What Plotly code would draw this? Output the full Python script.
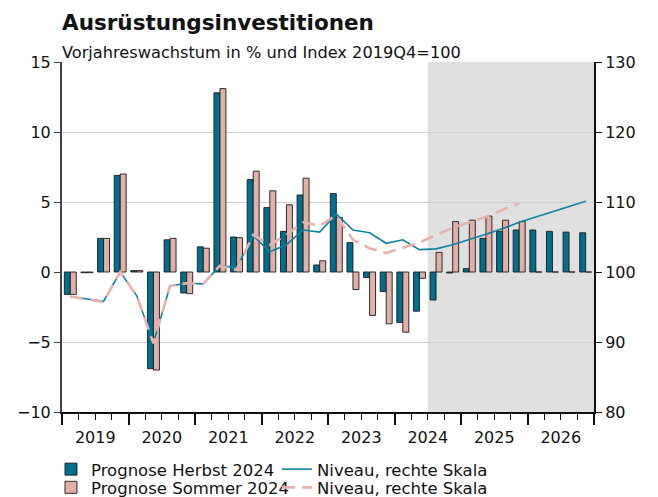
import plotly.graph_objects as go

# Quarters 2019Q1 .. 2026Q4 (index 0..31)
quarters = [f"{y}Q{q}" for y in range(2019, 2027) for q in range(1, 5)]
years = ["2019", "2020", "2021", "2022", "2023", "2024", "2025", "2026"]

herbst_growth = [-1.6, -0.05, 2.4, 6.9, 0.1, -6.9, 2.3, -1.5,
                 1.8, 12.8, 2.5, 6.6, 4.6, 2.9, 5.5, 0.5,
                 5.6, 2.1, -0.4, -1.4, -3.6, -2.8, -2.0, -0.07,
                 0.24, 2.4, 2.9, 3.0, 3.0, 2.9, 2.85, 2.8]
sommer_growth = [-1.6, -0.05, 2.4, 7.0, 0.1, -7.0, 2.4, -1.55,
                 1.7, 13.1, 2.45, 7.2, 5.8, 4.8, 6.7, 0.8,
                 3.9, -1.25, -3.1, -3.7, -4.3, -0.45, 1.4, 3.6,
                 3.7, 4.0, 3.7, 3.6, 0, 0, 0, 0]
herbst_level = [96.5, 96.1, 95.8, 100.0, 96.6, 89.9, 98.0, 98.4,
                98.3, 100.9, 100.6, 105.2, 102.9, 103.9, 106.0, 105.7,
                108.3, 106.0, 105.6, 104.1, 104.6, 103.2, 103.3, 103.9,
                104.6, 105.4, 106.2, 107.1, 107.85, 108.6, 109.35, 110.1]
sommer_level = [96.5, 96.1, 95.7, 100.0, 96.6, 89.8, 98.0, 98.4,
                98.3, 100.9, 100.3, 105.3, 103.9, 105.3, 107.1, 106.6,
                108.1, 104.6, 103.4, 102.7, 103.4, 104.2, 105.3, 106.3,
                107.1, 107.9, 108.9, 109.8, None, None, None, None]
left_ticks = [-10, -5, 0, 5, 10, 15]
left_grid = [-5, 5, 10, 15]
right_ticks = [80, 90, 100, 110, 120, 130]
forecast_start = "2024Q3"

TEAL = "#006F8E"
PINK = "#E2AFA9"
TEAL_LINE = "#0F82A1"
PINK_LINE = "#E6B4AF"
FONT = "DejaVu Sans"

x = list(range(len(quarters)))
fc = quarters.index(forecast_start) - 0.5
year_centers = [i * 4 + 1.5 for i in range(len(years))]
year_bounds = [i * 4 - 0.5 for i in range(len(years) + 1)]
quarter_bounds = [i - 0.5 for i in range(len(quarters) + 1)]

fig = go.Figure()
fig.add_trace(go.Bar(x=x, y=herbst_growth, name="Prognose Herbst 2024",
                     marker=dict(color=TEAL, line=dict(color="#1a1a1a", width=0.9)),
                     legend="legend"))
fig.add_trace(go.Bar(x=x, y=sommer_growth, name="Prognose Sommer 2024",
                     marker=dict(color=PINK, line=dict(color="#1a1a1a", width=0.9)),
                     legend="legend2"))
fig.add_trace(go.Scatter(x=x, y=herbst_level, name="Niveau, rechte Skala",
                         mode="lines", line=dict(color=TEAL_LINE, width=1.6),
                         xaxis="x2", yaxis="y2", legend="legend"))
fig.add_trace(go.Scatter(x=x, y=sommer_level, name="Niveau, rechte Skala",
                         mode="lines", line=dict(color=PINK_LINE, width=2.6, dash="13px,7px"),
                         xaxis="x2", yaxis="y2", legend="legend2"))

fig.add_shape(type="rect", xref="x", yref="paper", x0=fc, x1=31.5, y0=0, y1=1,
              fillcolor="#E0E0E0", line=dict(width=0), layer="below")

legend_common = dict(orientation="h", xanchor="left", yanchor="top",
                     entrywidth=181, entrywidthmode="pixels", traceorder="normal",
                     font=dict(family=FONT, size=16.5, color="#111111"), itemwidth=30,
                     bgcolor="rgba(0,0,0,0)", borderwidth=0)

fig.update_layout(
    width=658, height=497,
    margin=dict(l=54, r=72, t=54, b=93, autoexpand=False),
    paper_bgcolor="white", plot_bgcolor="white",
    font=dict(family=FONT, size=16, color="#111111"),
    barmode="group", bargap=0.28, bargroupgap=0,
    showlegend=True,
    legend=dict(x=-0.0207, y=-0.114, **legend_common),
    legend2=dict(x=-0.0207, y=-0.166, **legend_common),
    xaxis=dict(range=[-0.5, 31.5], tickmode="array", tickvals=year_centers, ticktext=years,
               ticks="outside", ticklen=10, tickcolor="rgba(0,0,0,0)",
               showgrid=False, zeroline=False, automargin=False,
               showline=True, linecolor="#111111", linewidth=2,
               tickfont=dict(family=FONT, size=16),
               minor=dict(tickmode="array", tickvals=quarter_bounds, ticks="outside",
                          ticklen=6, tickcolor="#111111", tickwidth=1, showgrid=False)),
    xaxis2=dict(range=[-0.5, 31.5], overlaying="x", anchor="y2", side="bottom",
                tickmode="array", tickvals=year_bounds, ticks="outside", ticklen=12,
                tickcolor="#111111", tickwidth=1.5, showticklabels=False,
                showgrid=False, zeroline=False, showline=False, automargin=False),
    yaxis=dict(range=[-10, 15], tickmode="array", tickvals=left_ticks,
               ticks="outside", ticklen=6, tickcolor="#444444", automargin=False,
               showline=True, linecolor="#444444", linewidth=2,
               showgrid=False, zeroline=False,
               minor=dict(tickmode="array", tickvals=left_grid, ticks="",
                          showgrid=True, gridcolor="#D0D0D0", gridwidth=1),
               tickfont=dict(family=FONT, size=16)),
    yaxis2=dict(range=[80, 130], tickmode="array", tickvals=right_ticks,
                overlaying="y", side="right", anchor="x2", automargin=False,
                ticks="outside", ticklen=6, tickcolor="#111111",
                showline=True, linecolor="#111111", linewidth=2,
                showgrid=False, zeroline=False,
                tickfont=dict(family=FONT, size=16)),
    annotations=[
        dict(text="<b>Ausrüstungsinvestitionen</b>", xref="paper", yref="paper",
             x=-0.004, y=1.153, xanchor="left", yanchor="top", showarrow=False,
             font=dict(family=FONT, size=21.5, color="#111111")),
        dict(text="Vorjahreswachstum in % und Index 2019Q4=100", xref="paper", yref="paper",
             x=-0.004, y=1.0586, xanchor="left", yanchor="top", showarrow=False,
             font=dict(family=FONT, size=16.2, color="#111111")),
    ],
)

fig.write_html("out.html")
